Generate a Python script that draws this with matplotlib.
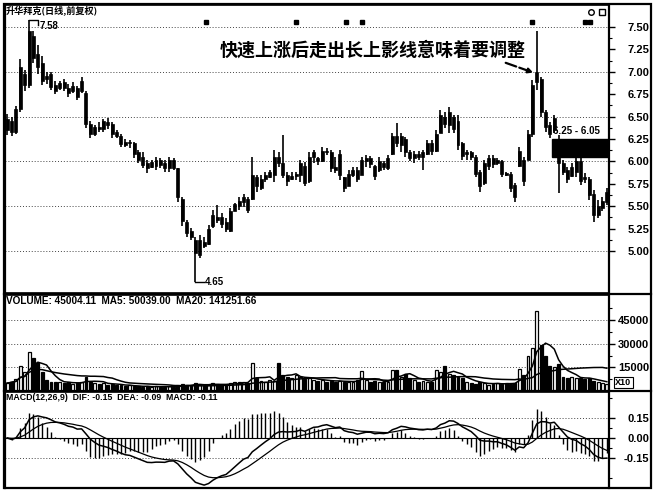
import numpy as np
import pandas as pd
import matplotlib
matplotlib.use("Agg")
import matplotlib.pyplot as plt
from matplotlib.patches import Rectangle
from matplotlib.lines import Line2D

plt.rcParams['font.family'] = ['Liberation Sans', 'Noto Sans CJK SC', 'DejaVu Sans']

# ---- data ----
opens = [6.35, 6.45, 6.33, 6.58, 6.85, 6.85, 7.40, 7.20, 7.10, 6.95,
         6.98, 6.85, 6.82, 6.88, 6.82, 6.78, 6.82, 6.78, 6.76, 6.42,
         6.30, 6.38, 6.36, 6.44, 6.42, 6.33, 6.28, 6.22, 6.20, 6.20,
         6.10, 6.05, 5.98, 5.94, 5.95, 6.02, 5.98, 5.92, 6.02, 5.92,
         5.58, 5.32, 5.22, 5.12, 4.95, 5.10, 5.08, 5.28, 5.38, 5.38,
         5.32, 5.22, 5.45, 5.50, 5.55, 5.58, 5.58, 5.82, 5.70, 5.80,
         5.83, 5.85, 6.05, 5.98, 5.85, 5.80, 5.84, 5.85, 5.95, 5.78,
         6.05, 6.04, 6.00, 6.12, 6.10, 5.94, 5.85, 5.82, 5.72, 5.85,
         5.90, 5.85, 6.00, 6.04, 5.95, 5.90, 5.98, 5.92, 6.08, 6.28,
         6.18, 6.25, 6.10, 6.04, 6.08, 6.05, 6.08, 6.20, 6.12, 6.32,
         6.50, 6.40, 6.50, 6.45, 6.20, 6.08, 6.10, 6.05, 5.88, 5.76,
         5.95, 6.04, 5.98, 6.00, 5.86, 5.86, 5.74, 5.95, 6.02, 6.02,
         6.30, 6.88, 6.92, 6.55, 6.40, 6.35, 6.25, 5.98, 5.90, 5.84,
         5.88, 6.00, 5.82, 5.80, 5.64, 5.40, 5.48, 5.55]
highs = [6.53, 6.50, 6.62, 7.14, 7.02, 7.58, 7.45, 7.30, 7.18, 7.00,
         7.00, 6.90, 6.90, 6.92, 6.86, 6.88, 6.84, 6.94, 6.78, 6.45,
         6.41, 6.44, 6.47, 6.48, 6.44, 6.35, 6.30, 6.25, 6.24, 6.22,
         6.13, 6.10, 6.02, 6.02, 6.05, 6.04, 6.02, 6.05, 6.04, 5.93,
         5.60, 5.35, 5.26, 5.15, 5.18, 5.15, 5.29, 5.46, 5.51, 5.42,
         5.37, 5.48, 5.54, 5.60, 5.63, 5.60, 6.05, 5.85, 5.85, 5.88,
         5.90, 6.13, 6.10, 6.29, 5.88, 5.88, 5.88, 6.02, 5.99, 6.10,
         6.13, 6.05, 6.16, 6.15, 6.13, 6.05, 6.13, 5.83, 5.90, 5.94,
         5.94, 6.05, 6.07, 6.06, 5.96, 6.05, 6.00, 6.07, 6.32, 6.43,
         6.32, 6.27, 6.13, 6.11, 6.11, 6.13, 6.24, 6.24, 6.35, 6.57,
         6.55, 6.61, 6.52, 6.52, 6.22, 6.13, 6.12, 6.07, 5.90, 6.02,
         6.07, 6.07, 6.04, 6.01, 5.88, 5.88, 5.76, 6.16, 6.05, 6.35,
         6.91, 7.45, 6.94, 6.57, 6.44, 6.52, 6.29, 6.02, 5.94, 5.98,
         6.05, 6.04, 5.87, 5.83, 5.68, 5.57, 5.60, 5.70]
lows = [6.29, 6.28, 6.30, 6.55, 6.78, 6.82, 7.10, 6.98, 6.85, 6.86,
        6.80, 6.75, 6.80, 6.78, 6.72, 6.76, 6.69, 6.76, 6.37, 6.26,
        6.28, 6.33, 6.33, 6.36, 6.26, 6.26, 6.16, 6.16, 6.15, 6.04,
        5.98, 5.92, 5.87, 5.92, 5.90, 5.93, 5.88, 5.88, 5.90, 5.55,
        5.28, 5.16, 5.12, 4.65, 4.92, 5.03, 5.07, 5.26, 5.31, 5.26,
        5.21, 5.21, 5.44, 5.46, 5.49, 5.42, 5.57, 5.66, 5.68, 5.77,
        5.81, 5.77, 5.94, 5.81, 5.72, 5.79, 5.79, 5.77, 5.72, 5.76,
        5.98, 5.96, 5.99, 6.07, 5.88, 5.87, 5.79, 5.66, 5.72, 5.83,
        5.77, 5.85, 5.94, 5.93, 5.79, 5.88, 5.90, 5.90, 6.07, 6.16,
        6.10, 6.05, 6.00, 5.98, 6.02, 5.90, 6.07, 6.07, 6.10, 6.32,
        6.37, 6.32, 6.32, 6.13, 6.02, 6.02, 6.02, 5.83, 5.66, 5.74,
        5.90, 5.93, 5.96, 5.83, 5.84, 5.66, 5.55, 5.94, 5.72, 6.02,
        6.27, 6.80, 6.50, 6.33, 6.26, 6.32, 5.65, 5.85, 5.76, 5.83,
        5.83, 5.74, 5.76, 5.57, 5.32, 5.37, 5.44, 5.51]
closes = [6.47, 6.33, 6.58, 7.05, 6.98, 7.45, 7.15, 7.05, 6.90, 6.92,
          6.83, 6.78, 6.87, 6.82, 6.76, 6.84, 6.72, 6.90, 6.42, 6.30,
          6.38, 6.36, 6.45, 6.40, 6.30, 6.28, 6.19, 6.18, 6.22, 6.08,
          6.02, 5.96, 5.92, 5.99, 6.02, 5.96, 5.92, 6.02, 5.93, 5.60,
          5.33, 5.20, 5.15, 4.98, 5.12, 5.06, 5.25, 5.40, 5.35, 5.30,
          5.24, 5.45, 5.52, 5.56, 5.60, 5.46, 5.85, 5.72, 5.80, 5.85,
          5.88, 6.05, 5.98, 5.85, 5.78, 5.84, 5.86, 5.98, 5.76, 6.05,
          6.10, 6.00, 6.12, 6.10, 5.92, 5.90, 6.08, 5.70, 5.86, 5.90,
          5.80, 6.02, 6.04, 5.97, 5.84, 6.00, 5.94, 6.04, 6.28, 6.20,
          6.28, 6.10, 6.04, 6.08, 6.05, 6.10, 6.20, 6.12, 6.30, 6.52,
          6.42, 6.55, 6.36, 6.18, 6.06, 6.10, 6.05, 5.86, 5.72, 5.98,
          6.04, 5.97, 6.02, 5.86, 5.85, 5.70, 5.60, 6.12, 5.78, 6.30,
          6.85, 7.00, 6.55, 6.38, 6.30, 6.48, 5.98, 5.88, 5.80, 5.94,
          6.00, 5.78, 5.80, 5.62, 5.40, 5.50, 5.56, 5.66]
volumes = [5000, 6000, 7500, 16000, 12000, 24500, 21000, 18000, 12000, 7000,
           6000, 5500, 6000, 5000, 5500, 4500, 5000, 6000, 9000, 6000,
           5000, 4500, 5000, 4000, 4500, 4000, 3500, 3000, 3500, 3000,
           3000, 2500, 3000, 2500, 3000, 2500, 2500, 3000, 2500, 3500,
           4500, 4000, 3500, 5000, 4000, 3500, 4000, 5000, 4500, 4000,
           3500, 5000, 5500, 6000, 5500, 5000, 17500, 8000, 6500, 6000,
           7000, 6500, 17500, 10000, 9000, 8000, 10000, 9000, 7500, 8000,
           7000, 6500, 7000, 6000, 6500, 6000, 6500, 6000, 5500, 6000,
           7000, 12500, 7000, 6000, 6500, 6000, 5500, 6000, 13500, 13500,
           9000, 11000, 8000, 7000, 6000, 6500, 5500, 6000, 13500, 12000,
           16000, 11000, 10000, 9000, 8000, 6000, 5000, 4500, 5500, 5000,
           4000, 4500, 5000, 4500, 5000, 4500, 5000, 14000, 10000, 22500,
           27500, 51000, 29000, 22000, 16000, 15000, 17000, 9000, 8500, 9000,
           8500, 8000, 7500, 8000, 6500, 5500, 5000, 4500]

price_ticks = [5.00, 5.25, 5.50, 5.75, 6.00, 6.25, 6.50, 6.75, 7.00, 7.25, 7.50]
vol_ticks = [15000, 30000, 45000]
macd_ticks = [-0.15, 0.00, 0.15]

title_text = "升华拜克(日线,前复权)"
note_text = "快速上涨后走出长上影线意味着要调整"
vol_header = "VOLUME: 45004.11  MA5: 50039.00  MA20: 141251.66"
macd_header = "MACD(12,26,9)  DIF: -0.15  DEA: -0.09  MACD: -0.11"

# ---- derived series ----
n = len(closes)
x = np.arange(n)
o = np.array(opens); h = np.array(highs); l = np.array(lows); c = np.array(closes)
vol = pd.Series(volumes, dtype=float)
ma5 = vol.rolling(5, min_periods=1).mean()
ma20 = vol.rolling(20, min_periods=1).mean()
cs = pd.Series(closes)
dif = cs.ewm(span=12, adjust=False).mean() - cs.ewm(span=26, adjust=False).mean()
dea = dif.ewm(span=9, adjust=False).mean()
hist = 2 * (dif - dea)

# ---- layout in pixels ----
W, H = 656, 491
fig = plt.figure(figsize=(W / 100, H / 100), dpi=100)


def px_axes(x0, y0, x1, y1):
    return fig.add_axes([x0 / W, 1 - y1 / H, (x1 - x0) / W, (y1 - y0) / H])


ax = px_axes(5, 5, 609, 293)
axv = px_axes(5, 295, 609, 391)
axm = px_axes(5, 392, 609, 488)

tickfont = dict(family='Liberation Sans', weight='bold', size=8)
dot = (0, (1, 2))

for a in (ax, axv, axm):
    a.set_xlim(-0.5, n - 0.5)
    a.set_xticks([])
    a.yaxis.tick_right()
    a.tick_params(axis='y', which='major', length=4, width=1, direction='out')
    a.tick_params(axis='y', which='minor', length=2, width=0.8, direction='out')
    for s in a.spines.values():
        s.set_linewidth(1.2)
    a.spines['right'].set_linewidth(1.6)
    a.spines['left'].set_linewidth(1.6)

# ---- price panel ----
ax.set_ylim(4.53, 7.745)
ax.set_yticks(price_ticks)
ax.set_yticklabels(['%.2f' % v for v in price_ticks], fontdict=tickfont)
ax.set_yticks([v + 0.125 for v in price_ticks[:-1]], minor=True)
for gy in [5.0, 5.5, 6.0, 6.5, 7.0, 7.5]:
    ax.axhline(gy, color='#444444', lw=0.7, ls=dot, zorder=0)

ax.vlines(x, l, h, color='black', lw=1.2)
body_lo = np.minimum(o, c)
body_h = np.maximum(np.abs(c - o), 0.015)
ax.bar(x, body_h, bottom=body_lo, width=0.68, color='black', edgecolor='black', lw=0.5)

ax.text(0.002, 0.995, title_text, transform=ax.transAxes, ha='left', va='top',
        fontsize=6.6, fontweight='bold', family=['Noto Sans CJK SC', 'DejaVu Sans'])

# high / low markers
ih = int(np.argmax(h)); il = int(np.argmin(l))
ax.plot([ih, ih + 2, ih + 2], [h[ih], h[ih], h[ih] - 0.06], color='black', lw=1)
ax.text(ih + 2.4, h[ih] - 0.07, '%.2f' % h[ih], ha='left', va='center',
        fontsize=7, fontweight='bold')
ax.plot([il, il + 2], [l[il], l[il]], color='black', lw=1)
ax.text(il + 2.1, l[il], '%.2f' % l[il], ha='left', va='center',
        fontsize=7, fontweight='bold')

# resistance zone
zone_hi, zone_lo = 6.25, 6.05
ax.add_patch(Rectangle((124.5, zone_lo), n - 0.5 - 124.5, zone_hi - zone_lo,
                       facecolor='black', edgecolor='black', zorder=3))
ax.text(124.7, zone_hi + 0.03, '%.2f - %.2f' % (zone_hi, zone_lo), ha='left',
        va='bottom', fontsize=7, fontweight='bold')

# annotation
ax.text(48.5, 7.245, note_text, ha='left', va='center', fontsize=13,
        fontweight='bold', family=['Noto Sans CJK SC', 'DejaVu Sans'])
ax.annotate('', xy=(120.8, 6.98), xytext=(113.3, 7.11),
            arrowprops=dict(arrowstyle='-|>', color='black', lw=1.6,
                            ls=(0, (5, 1.5)), mutation_scale=7))

# small event markers along the top
for mx in [45.5, 66, 77.5, 81, 120, 132, 133.2]:
    ax.plot(mx, 7.56, marker='s', ms=2.2, color='black')
ax.plot(133.5, 7.67, marker='o', ms=4, mfc='white', mec='black', mew=1)
ax.plot(135.8, 7.67, marker='s', ms=4, mfc='white', mec='black', mew=1)

# ---- volume panel ----
axv.set_ylim(0, 61000)
axv.set_yticks(vol_ticks)
axv.set_yticklabels([str(v) for v in vol_ticks], fontdict=tickfont)
axv.set_yticks([7500, 22500, 37500, 52500], minor=True)
for gy in vol_ticks:
    axv.axhline(gy, color='#444444', lw=0.7, ls=dot, zorder=0)
up = c >= o
axv.bar(x, vol, width=0.66, color=np.where(up, 'white', 'black'),
        edgecolor='black', lw=0.9)
axv.plot(x, ma5, color='black', lw=1.1)
axv.plot(x, ma20, color='black', lw=1.1)
axv.text(0.002, 0.985, vol_header, transform=axv.transAxes, ha='left', va='top',
         fontsize=7.2, fontweight='bold')
axv.text(1.01, 0.09, 'X10', transform=axv.transAxes, ha='left', va='center',
         fontsize=6.5, fontweight='bold',
         bbox=dict(boxstyle='square,pad=0.15', fc='white', ec='black', lw=0.8))

# ---- MACD panel ----
axm.set_ylim(-0.375, 0.345)
axm.set_yticks(macd_ticks)
axm.set_yticklabels(['%.2f' % v for v in macd_ticks], fontdict=tickfont)
axm.set_yticks([-0.3, -0.075, 0.075, 0.3], minor=True)
for gy in [-0.15, 0.15]:
    axm.axhline(gy, color='#444444', lw=0.7, ls=dot, zorder=0)
axm.axhline(0, color='black', lw=0.8)
axm.vlines(x, 0, hist, color='black', lw=1)
axm.plot(x, dif, color='black', lw=1.1)
axm.plot(x, dea, color='black', lw=0.9)
axm.text(0.002, 0.985, macd_header, transform=axm.transAxes, ha='left', va='top',
         fontsize=6.3, fontweight='bold')

# right-aligned tick labels ending near the outer frame
for a in (ax, axv, axm):
    for t in a.get_yticklabels():
        t.set_horizontalalignment('right')
    a.tick_params(axis='y', which='major', pad=25)

# outer frame and panel separators
fig.add_artist(Rectangle((4 / W, 1 - 488 / H), 647 / W, 484 / H, transform=fig.transFigure,
                         fill=False, edgecolor='black', lw=1.6))
for yy in [294, 391]:
    fig.add_artist(Line2D([4 / W, 651 / W], [1 - yy / H, 1 - yy / H],
                          transform=fig.transFigure, color='black', lw=1.6))

fig.savefig('out.png', dpi=100)
